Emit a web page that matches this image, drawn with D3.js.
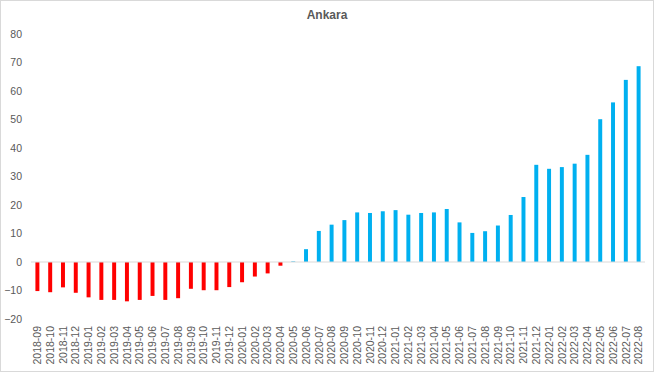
<!DOCTYPE html>
<meta charset="utf-8">
<style>
body { margin: 0; background: #fff; }
.axis text { font: 10.5px "Liberation Sans", Arial, sans-serif; fill: #595959; }
.title { font: bold 12px "Liberation Sans", Arial, sans-serif; fill: #595959; }
</style>
<svg width="654" height="372"></svg>
<script src="https://cdn.jsdelivr.net/npm/d3@7"></script>
<script>
var months = ["2018-09","2018-10","2018-11","2018-12","2019-01","2019-02","2019-03","2019-04","2019-05","2019-06","2019-07","2019-08","2019-09","2019-10","2019-11","2019-12","2020-01","2020-02","2020-03","2020-04","2020-05","2020-06","2020-07","2020-08","2020-09","2020-10","2020-11","2020-12","2021-01","2021-02","2021-03","2021-04","2021-05","2021-06","2021-07","2021-08","2021-09","2021-10","2021-11","2021-12","2022-01","2022-02","2022-03","2022-04","2022-05","2022-06","2022-07","2022-08"];
var values = [-10.2,-10.6,-8.9,-10.8,-12.4,-13.3,-13.3,-13.8,-13.3,-11.9,-13.3,-12.7,-9.4,-9.9,-9.9,-8.8,-7.1,-5.1,-4.0,-1.3,0.2,4.5,10.9,13.1,14.7,17.4,17.2,17.8,18.2,16.6,17.2,17.4,18.6,13.9,10.2,10.8,12.8,16.5,22.8,34.1,32.7,33.3,34.5,37.6,50.1,56.0,63.9,68.7];
var yTicks = [-20,-10,0,10,20,30,40,50,60,70,80];

var svg = d3.select("svg"),
    margin = {top: 34, right: 9, bottom: 53, left: 31},
    width = svg.attr("width") - margin.left - margin.right,
    height = svg.attr("height") - margin.top - margin.bottom;

svg.append("rect")
    .attr("x", 0.5).attr("y", 0.5)
    .attr("width", 653).attr("height", 371)
    .attr("fill", "#fff").attr("stroke", "#d9d9d9");

var g = svg.append("g").attr("transform", "translate(" + margin.left + "," + margin.top + ")");

var x = d3.scaleBand().domain(months).range([0, width]).paddingInner(0.69).paddingOuter(0.345),
    y = d3.scaleLinear().domain([-20, 80]).range([height, 0]);

svg.append("text")
    .attr("class", "title")
    .attr("x", 327)
    .attr("y", 19)
    .attr("text-anchor", "middle")
    .text("Ankara");

// y labels
g.append("g")
    .attr("class", "axis")
    .call(d3.axisLeft(y).tickValues(yTicks).tickSize(0).tickPadding(9))
    .call(function(s) { s.select(".domain").remove(); });

// bars
g.selectAll(".bar")
    .data(values)
  .enter().append("rect")
    .attr("class", "bar")
    .attr("x", function(d, i) { return x(months[i]); })
    .attr("width", x.bandwidth())
    .attr("y", function(d) { return y(Math.max(0, d)); })
    .attr("height", function(d) { return Math.abs(y(d) - y(0)); })
    .attr("fill", function(d) { return d < 0 ? "#ff0000" : "#00b0f0"; });

// zero line
g.append("line")
    .attr("x1", 0).attr("x2", width)
    .attr("y1", y(0)).attr("y2", y(0))
    .attr("stroke", "#d9d9d9");

// x labels
var xa = g.append("g")
    .attr("class", "axis")
    .attr("transform", "translate(0," + height + ")")
    .call(d3.axisBottom(x).tickSize(0).tickPadding(0));
xa.select(".domain").remove();
xa.selectAll("text")
    .attr("transform", "rotate(-90)")
    .attr("text-anchor", "end")
    .attr("x", -7)
    .attr("y", 0)
    .attr("dy", "0.35em");
</script>
